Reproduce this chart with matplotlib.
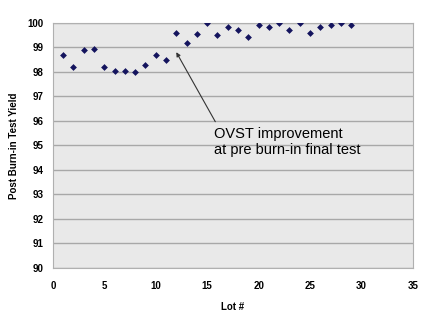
import matplotlib
matplotlib.use("Agg")
import matplotlib.pyplot as plt

lots = list(range(1, 30))
yields = [98.7, 98.18, 98.89, 98.95, 98.2, 98.02, 98.03, 97.99, 98.29, 98.68,
          98.49, 99.58, 99.16, 99.55, 100.0, 99.51, 99.82, 99.71, 99.42, 99.92,
          99.81, 100.0, 99.7, 100.0, 99.6, 99.81, 99.9, 100.0, 99.9]

x_ticks = [0, 5, 10, 15, 20, 25, 30, 35]
y_ticks = list(range(90, 101))

note_text = "OVST improvement\nat pre burn-in final test"
note_xy = (12.0, 98.8)
note_text_xy = (15.65, 95.15)

plt.rcParams["font.family"] = ["Liberation Sans", "DejaVu Sans"]

fig = plt.figure(figsize=(4.23, 3.12), dpi=100)
ax = fig.add_axes([0.125, 0.141, 0.851, 0.786])
ax.set_facecolor("#e9e9e9")

ax.scatter(lots, yields, marker="D", s=12, color="#14145e", zorder=3, linewidths=0)

ax.set_xlim(0, 35)
ax.set_ylim(90, 100)
ax.set_xticks(x_ticks)
ax.set_yticks(y_ticks)
ax.yaxis.grid(True, color="#a8a8a8", linewidth=1)
ax.set_axisbelow(True)
for side in ax.spines.values():
    side.set_color("#b0b0b0")
ax.tick_params(length=0, labelsize=7)
ax.tick_params(axis="x", pad=9)
ax.tick_params(axis="y", pad=7)
for lab in ax.get_xticklabels() + ax.get_yticklabels():
    lab.set_fontweight("bold")

ax.set_xlabel("Lot #", fontsize=7, fontweight="bold", labelpad=8)
ax.set_ylabel("Post Burn-in Test Yield", fontsize=7, fontweight="bold", labelpad=6)

ax.annotate(note_text, xy=note_xy, xytext=note_text_xy, fontsize=10.5,
            ha="left", va="center", linespacing=1.15,
            arrowprops=dict(arrowstyle="-|>", color="#333333", lw=0.8,
                            shrinkA=2, shrinkB=0, mutation_scale=6,
                            relpos=(0.03, 1.0)))

fig.savefig("out.png", dpi=100)
